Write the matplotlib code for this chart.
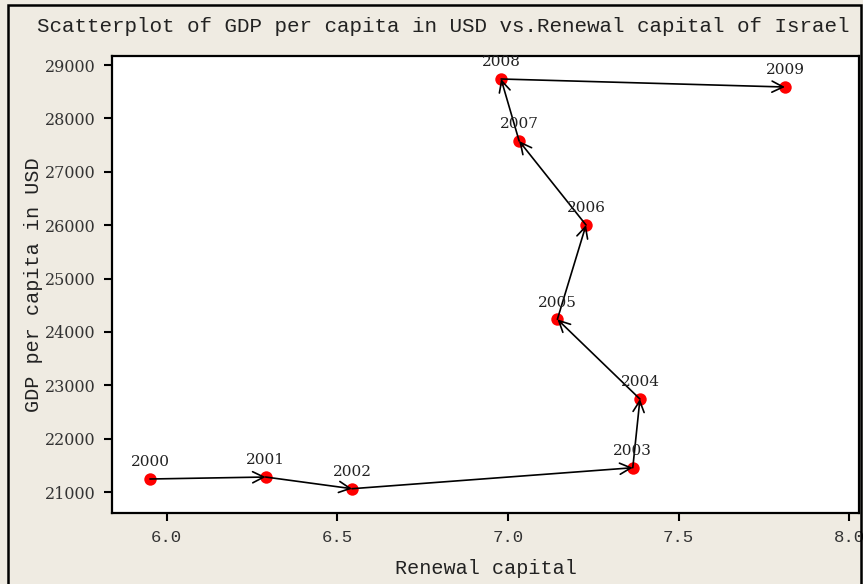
import matplotlib
matplotlib.use("Agg")
import matplotlib.pyplot as plt
from matplotlib.patches import Rectangle

years = ["2000", "2001", "2002", "2003", "2004", "2005", "2006", "2007", "2008", "2009"]
renewal_capital = [5.951, 6.290, 6.543, 7.366, 7.387, 7.145, 7.229, 7.033, 6.980, 7.812]
gdp_per_capita = [21244, 21281, 21062, 21455, 22742, 24236, 26002, 27576, 28738, 28588]
x_ticks = [6.0, 6.5, 7.0, 7.5, 8.0]
y_ticks = [21000, 22000, 23000, 24000, 25000, 26000, 27000, 28000, 29000]

bg = "#EFEBE2"
mono = ["Liberation Mono", "DejaVu Sans Mono"]
serif = ["DejaVu Serif"]

fig = plt.figure(figsize=(8.63, 5.84), dpi=100, facecolor=bg)
ax = fig.add_axes([112 / 863, 1 - 513 / 584, (859 - 112) / 863, (513 - 56) / 584])
ax.set_facecolor("white")

ax.scatter(renewal_capital, gdp_per_capita, s=80, color="#FF0000", zorder=2, linewidths=0)

for i in range(len(years) - 1):
    ax.annotate("", xy=(renewal_capital[i + 1], gdp_per_capita[i + 1]),
                xytext=(renewal_capital[i], gdp_per_capita[i]),
                arrowprops=dict(arrowstyle="->", color="black", lw=1.2,
                                shrinkA=0, shrinkB=0, mutation_scale=20),
                zorder=3)

for yr, xv, yv in zip(years, renewal_capital, gdp_per_capita):
    ax.annotate(yr, (xv, yv), xytext=(0, 7), textcoords="offset points",
                ha="center", va="bottom", fontsize=11, family=serif, color="#222222")

ax.set_xlim(5.8397, 8.029)
ax.set_ylim(20607, 29169)
ax.set_xticks(x_ticks)
ax.set_xticklabels([f"{v:.1f}" for v in x_ticks], family=mono, fontsize=12.5, color="#333333")
ax.set_yticks(y_ticks)
ax.set_yticklabels([str(v) for v in y_ticks], family=serif, fontsize=11.5, color="#333333")
ax.tick_params(direction="out", length=6, width=1.5, pad=6, colors="black", labelcolor="#333333")

for sp in ax.spines.values():
    sp.set_linewidth(1.6)
    sp.set_color("black")

ax.set_xlabel("Renewal capital", family=mono, fontsize=14.5, color="#222222", labelpad=10)
ax.set_ylabel("GDP per capita in USD", family=mono, fontsize=14.5, color="#222222", labelpad=1)

fig.text(0.5 * (30 + 857) / 863, 1 - 27 / 584,
         "Scatterplot of GDP per capita in USD vs.Renewal capital of Israel",
         ha="center", va="center", family=mono, fontsize=15, color="#222222")

fig.patches.append(Rectangle((7.5 / 863, -0.02), (860.5 - 7.5) / 863, 1 - 5.5 / 584 + 0.02,
                             transform=fig.transFigure, fill=False, edgecolor="black",
                             linewidth=1.8, zorder=10))

fig.savefig("out.png", dpi=100, facecolor=bg)
